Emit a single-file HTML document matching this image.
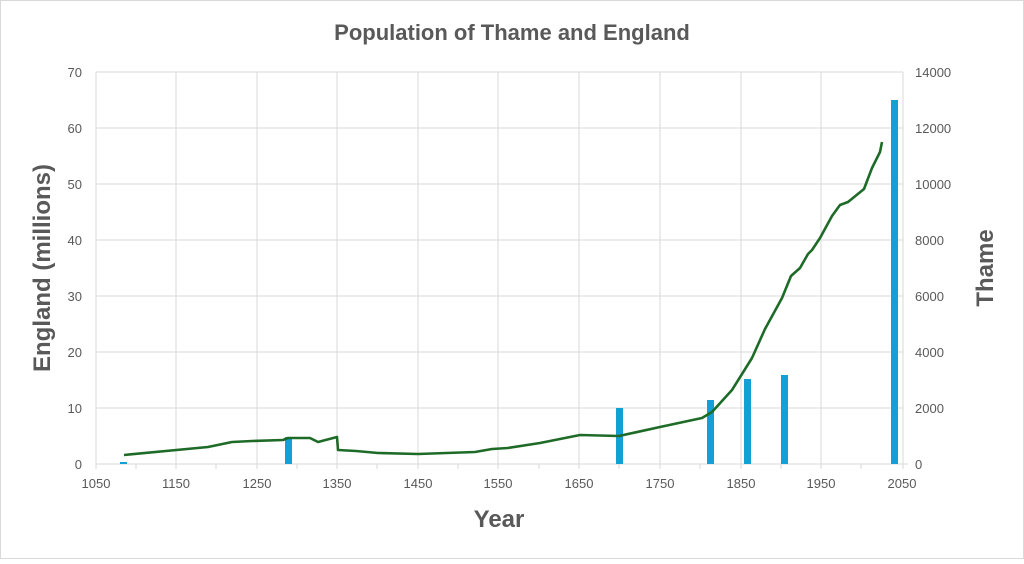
<!DOCTYPE html><html><head><style>body{margin:0;background:#fff}svg{font-family:"Liberation Sans",sans-serif}</style></head><body>
<svg width="1024" height="559" viewBox="0 0 1024 559">
<rect x="0.5" y="0.5" width="1023" height="558" fill="#fff" stroke="#d9d9d9"/>
<text x="512" y="40" text-anchor="middle" font-size="22" font-weight="bold" fill="#595959">Population of Thame and England</text>
<g stroke="#d9d9d9" stroke-width="1">
<line x1="96" y1="72" x2="903" y2="72"/><line x1="96" y1="128" x2="903" y2="128"/><line x1="96" y1="184" x2="903" y2="184"/><line x1="96" y1="240" x2="903" y2="240"/><line x1="96" y1="296" x2="903" y2="296"/><line x1="96" y1="352" x2="903" y2="352"/><line x1="96" y1="408" x2="903" y2="408"/>
<line x1="176" y1="72" x2="176" y2="464"/><line x1="257" y1="72" x2="257" y2="464"/><line x1="337" y1="72" x2="337" y2="464"/><line x1="418" y1="72" x2="418" y2="464"/><line x1="498" y1="72" x2="498" y2="464"/><line x1="579" y1="72" x2="579" y2="464"/><line x1="660" y1="72" x2="660" y2="464"/><line x1="741" y1="72" x2="741" y2="464"/><line x1="821" y1="72" x2="821" y2="464"/>
<line x1="96" y1="72" x2="96" y2="469"/><line x1="903" y1="72" x2="903" y2="469"/><line x1="96" y1="464" x2="908" y2="464"/>
<line x1="136" y1="464" x2="136" y2="469"/><line x1="216" y1="464" x2="216" y2="469"/><line x1="297" y1="464" x2="297" y2="469"/><line x1="377" y1="464" x2="377" y2="469"/><line x1="458" y1="464" x2="458" y2="469"/><line x1="539" y1="464" x2="539" y2="469"/><line x1="619" y1="464" x2="619" y2="469"/><line x1="700" y1="464" x2="700" y2="469"/><line x1="781" y1="464" x2="781" y2="469"/><line x1="861" y1="464" x2="861" y2="469"/>
<line x1="176" y1="464" x2="176" y2="469"/><line x1="257" y1="464" x2="257" y2="469"/><line x1="337" y1="464" x2="337" y2="469"/><line x1="418" y1="464" x2="418" y2="469"/><line x1="498" y1="464" x2="498" y2="469"/><line x1="579" y1="464" x2="579" y2="469"/><line x1="660" y1="464" x2="660" y2="469"/><line x1="741" y1="464" x2="741" y2="469"/><line x1="821" y1="464" x2="821" y2="469"/>
</g>
<g font-size="13" fill="#595959" text-anchor="end">
<text x="82" y="77">70</text><text x="82" y="133">60</text><text x="82" y="189">50</text><text x="82" y="245">40</text><text x="82" y="301">30</text><text x="82" y="357">20</text><text x="82" y="413">10</text><text x="82" y="469">0</text>
</g>
<g font-size="13" fill="#595959" text-anchor="start">
<text x="915" y="77">14000</text><text x="915" y="133">12000</text><text x="915" y="189">10000</text><text x="915" y="245">8000</text><text x="915" y="301">6000</text><text x="915" y="357">4000</text><text x="915" y="413">2000</text><text x="915" y="469">0</text>
</g>
<g font-size="13" fill="#595959" text-anchor="middle">
<text x="96" y="488">1050</text><text x="176" y="488">1150</text><text x="257" y="488">1250</text><text x="337" y="488">1350</text><text x="418" y="488">1450</text><text x="498" y="488">1550</text><text x="579" y="488">1650</text><text x="660" y="488">1750</text><text x="741" y="488">1850</text><text x="821" y="488">1950</text><text x="902" y="488">2050</text>
</g>
<text x="499" y="527" text-anchor="middle" font-size="24" font-weight="bold" fill="#595959">Year</text>
<text transform="translate(50,268) rotate(-90)" text-anchor="middle" font-size="24" font-weight="bold" fill="#595959">England (millions)</text>
<text transform="translate(993,268) rotate(-90)" text-anchor="middle" font-size="24" font-weight="bold" fill="#595959">Thame</text>
<g fill="#12a0d7">
<rect x="120" y="462" width="7" height="2"/><rect x="285" y="437" width="7" height="27"/><rect x="616" y="408" width="7" height="56"/><rect x="707" y="400" width="7" height="64"/><rect x="744" y="379" width="7" height="85"/><rect x="781" y="375" width="7" height="89"/><rect x="891" y="100" width="7" height="364"/>
</g>
<polyline fill="none" stroke="#1e6b28" stroke-width="2.6" stroke-linejoin="round" points="124,455 208,447 232,442 252,441 283,440 288,438 310,438 318,442 337,437 338,450 356,451 378,453 418,454 475,452 492,449 508,448 540,443 580,435 619,436 660,427 702,418 712,412 732,390 752,358 765,329 782,298 791,276 800,268 808,254 812,250 820,238 832,216 840,205 848,202 864,189 872,168 880,152 882,142"/>
</svg></body></html>
